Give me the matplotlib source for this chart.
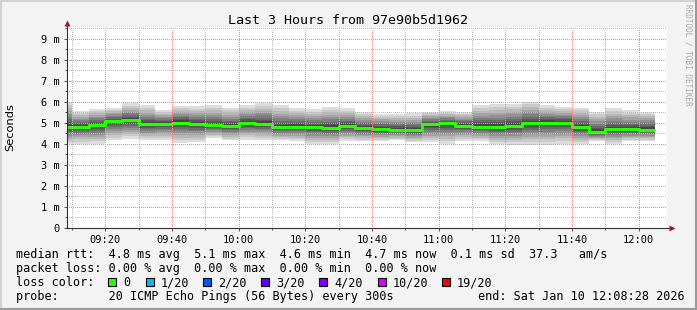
import matplotlib
matplotlib.use("Agg")
import matplotlib.pyplot as plt
import matplotlib.dates as mdates
from matplotlib.lines import Line2D
from matplotlib.patches import Rectangle
import pandas as pd

W, H = 697, 310

# 5 minute slots, each labelled by its end time
slot_end = pd.date_range("2026-01-10 09:10", "2026-01-10 12:05", freq="5min")
t_start = pd.Timestamp("2026-01-10 09:08:28")
t_end = pd.Timestamp("2026-01-10 12:08:28")

# median rtt per slot (ms)
median_ms = [4.79, 4.82, 4.89, 5.06, 5.12, 4.92, 4.95, 5.01, 4.93, 4.89,
             4.84, 4.98, 4.95, 4.78, 4.81, 4.78, 4.76, 4.84, 4.73, 4.70,
             4.67, 4.65, 4.92, 4.97, 4.86, 4.81, 4.78, 4.86, 4.98, 5.01,
             5.00, 4.79, 4.57, 4.70, 4.68, 4.67]
# fastest / slowest ping per slot (ms)
low_ms = [4.00, 4.00, 4.00, 4.17, 4.24, 4.17, 4.17, 4.05, 4.08, 4.28,
          4.16, 4.20, 4.20, 4.16, 4.12, 4.00, 4.00, 4.12, 4.12, 4.12,
          4.17, 4.08, 4.08, 4.00, 4.12, 4.12, 4.00, 3.95, 3.95, 3.95,
          4.00, 4.00, 4.12, 4.00, 4.12, 4.12]
high_ms = [6.00, 5.55, 5.67, 5.71, 5.92, 5.82, 5.60, 5.81, 5.78, 5.82,
           5.71, 5.82, 5.92, 5.82, 5.68, 5.63, 5.74, 5.68, 5.52, 5.43,
           5.40, 5.44, 5.52, 5.55, 5.52, 5.82, 5.90, 5.90, 6.00, 5.82,
           5.76, 5.71, 5.52, 5.68, 5.60, 5.52]

y_ticks = [0, 1, 2, 3, 4, 5, 6, 7, 8, 9]
y_labels = ["0", "1 m", "2 m", "3 m", "4 m", "5 m", "6 m", "7 m", "8 m", "9 m"]

loss_labels = ["0", "1/20", "2/20", "3/20", "4/20", "10/20", "19/20"]
loss_colors = ["#26ff00", "#00b8ff", "#0059ff", "#5e00ff", "#7e00ff", "#dd00ff", "#ff0000"]
loss_box_x = [108, 146, 203, 261, 319, 378, 442]

rtt_line = "median rtt:  4.8 ms avg  5.1 ms max  4.6 ms min  4.7 ms now  0.1 ms sd  37.3   am/s"
loss_line = "packet loss: 0.00 % avg  0.00 % max  0.00 % min  0.00 % now"
probe_line = "probe:       20 ICMP Echo Pings (56 Bytes) every 300s"
end_line = "end: Sat Jan 10 12:08:28 2026"

MONO = "DejaVu Sans Mono"


def fx(x):
    return x / W


def fy(y):
    return 1 - y / H


fig = plt.figure(figsize=(W / 100, H / 100), dpi=100, facecolor="#f3f3f3")
ax = fig.add_axes([fx(67), fy(228), 600 / W, 200 / H])
ax.set_facecolor("white")

step = pd.Timedelta("5min")
starts = mdates.date2num(slot_end - step)
width = 5 / 1440

# smoke: 10 nested bands, outer light to inner dark (smokeping style)
for k in range(10):
    f = ((10 - k) / 10) ** 1.3
    g = int(190 / 10 * (9 - k)) + 50
    col = "#%02x%02x%02x" % (g, g, g)
    bot = [m - f * (m - lo) for m, lo in zip(median_ms, low_ms)]
    top = [m + f * (hi - m) for m, hi in zip(median_ms, high_ms)]
    ax.bar(starts, [t - b for t, b in zip(top, bot)], width=width, bottom=bot,
           align="edge", color=col, linewidth=0)

xs = list(starts) + [mdates.date2num(slot_end[-1])]
ys = list(median_ms) + [median_ms[-1]]
ax.step(xs, ys, where="post", color=loss_colors[0], lw=2.2, solid_capstyle="butt")

ax.set_xlim(mdates.date2num(t_start), mdates.date2num(t_end))
ax.set_ylim(0, 9.5)

ax.xaxis.set_major_locator(mdates.MinuteLocator(byminute=[0, 20, 40]))
ax.xaxis.set_minor_locator(mdates.MinuteLocator(byminute=[10, 30, 50]))
ax.xaxis.set_major_formatter(mdates.DateFormatter("%H:%M"))
ax.set_yticks(y_ticks)
ax.set_yticklabels(y_labels)
ax.set_yticks([v + 0.5 for v in y_ticks], minor=True)

ax.set_axisbelow(False)
ax.grid(which="minor", color="#bcbcbc", lw=0.72, ls=(0, (1, 2)), antialiased=False)
ax.grid(which="major", color="#ec8a8a", lw=0.72, ls=(0, (1, 2)), antialiased=False)

ax.tick_params(which="both", direction="out", color="#555555", width=0.72)
ax.tick_params(which="major", length=2.5, labelsize=7.5, pad=2.6)
ax.tick_params(which="minor", length=1.5)
for lab in ax.get_xticklabels() + ax.get_yticklabels():
    lab.set_fontfamily(MONO)

for s in ax.spines.values():
    s.set_visible(False)

# axis lines with arrows
ax.plot([0, 0], [0, 1.02], transform=ax.transAxes, color="#333333", lw=0.8,
        clip_on=False, zorder=5)
ax.plot([0, 1.008], [0, 0], transform=ax.transAxes, color="#333333", lw=0.8,
        clip_on=False, zorder=5)
ax.plot([0], [1.025], transform=ax.transAxes, marker="^", ms=4.5, color="#9b1c1c",
        clip_on=False, zorder=6, mec="none")
ax.plot([1.009], [0], transform=ax.transAxes, marker=">", ms=4.5, color="#9b1c1c",
        clip_on=False, zorder=6, mec="none")

# texts
fig.text(fx(348), fy(24), "Last 3 Hours from 97e90b5d1962", family=MONO, size=9.6,
         ha="center", va="baseline")
fig.text(fx(10.5), fy(127), "Seconds", family="DejaVu Sans", size=8.2,
         rotation=90, ha="center", va="center")
fig.text(fx(688), fy(4), "RRDTOOL / TOBI OETIKER", family=MONO, size=5.5,
         rotation=270, ha="center", va="top", color="#a8a8a8")

fig.text(fx(16), fy(258.3), rtt_line, family=MONO, size=8.5, va="baseline")
fig.text(fx(16), fy(272.2), loss_line, family=MONO, size=8.5, va="baseline")
fig.text(fx(16), fy(286), "loss color:", family=MONO, size=8.5, va="baseline")
fig.text(fx(16), fy(300), probe_line, family=MONO, size=8.5, va="baseline")
fig.text(fx(478), fy(300), end_line, family=MONO, size=8.5, va="baseline")

for bx, lab, col in zip(loss_box_x, loss_labels, loss_colors):
    fig.add_artist(Rectangle((fx(bx), fy(286)), 8 / W, 8 / H, transform=fig.transFigure,
                             facecolor=col, edgecolor="black", lw=0.8))
    fig.text(fx(bx + 15), fy(286), lab, family=MONO, size=8.5, va="baseline")

# 3d frame
fig.add_artist(Line2D([0, 1], [fy(0.5), fy(0.5)], transform=fig.transFigure, color="#d2d2d2", lw=1.5))
fig.add_artist(Line2D([fx(0.5), fx(0.5)], [0, 1], transform=fig.transFigure, color="#d2d2d2", lw=1.5))
fig.add_artist(Line2D([0, 1], [fy(H - 1), fy(H - 1)], transform=fig.transFigure, color="#9a9a9a", lw=1.5))
fig.add_artist(Line2D([fx(W - 1), fx(W - 1)], [0, 1], transform=fig.transFigure, color="#9a9a9a", lw=2.2))

fig.savefig("out.png", dpi=100, facecolor=fig.get_facecolor())
